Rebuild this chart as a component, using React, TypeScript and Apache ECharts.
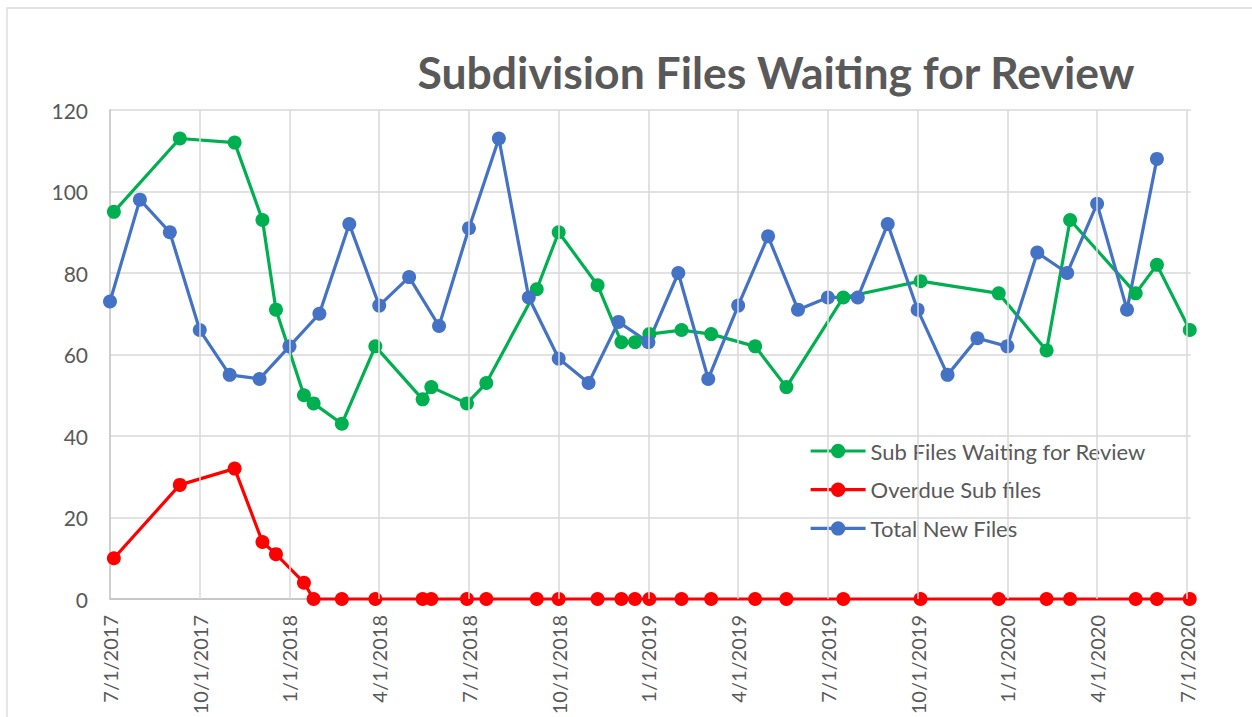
import React, { useEffect, useRef } from 'react';
import * as echarts from 'echarts';

const TITLE = 'Subdivision Files Waiting for Review';
const SERIES_NAMES = ['Sub Files Waiting for Review', 'Overdue Sub files', 'Total New Files'];
const COLORS = ['#00B050', '#FF0000', '#4472C4'];

const SUB_DATES = [
  '2017-07-05', '2017-09-11', '2017-11-06', '2017-12-04', '2017-12-18', '2018-01-16',
  '2018-01-26', '2018-02-22', '2018-03-28', '2018-05-15', '2018-05-24', '2018-06-29',
  '2018-07-19', '2018-09-09', '2018-10-01', '2018-11-10', '2018-12-04', '2018-12-18',
  '2019-01-02', '2019-02-04', '2019-03-04', '2019-04-18', '2019-05-20', '2019-07-17',
  '2019-10-04', '2019-12-23', '2020-02-10', '2020-03-04', '2020-05-10', '2020-06-01',
  '2020-07-04',
];
const SUB_WAITING = [
  95, 113, 112, 93, 71, 50, 48, 43, 62, 49, 52, 48, 53, 76, 90, 77, 63, 63, 65, 66,
  65, 62, 52, 74, 78, 75, 61, 93, 75, 82, 66,
];
const OVERDUE = [
  10, 28, 32, 14, 11, 4, 0, 0, 0, 0, 0, 0, 0, 0, 0, 0, 0, 0, 0, 0,
  0, 0, 0, 0, 0, 0, 0, 0, 0, 0, 0,
];

const NEW_DATES = [
  '2017-07-01', '2017-08-01', '2017-09-01', '2017-10-01', '2017-11-01', '2017-12-01',
  '2018-01-01', '2018-02-01', '2018-03-01', '2018-04-01', '2018-05-01', '2018-06-01',
  '2018-07-01', '2018-08-01', '2018-09-01', '2018-10-01', '2018-11-01', '2018-12-01',
  '2019-01-01', '2019-02-01', '2019-03-01', '2019-04-01', '2019-05-01', '2019-06-01',
  '2019-07-01', '2019-08-01', '2019-09-01', '2019-10-01', '2019-11-01', '2019-12-01',
  '2020-01-01', '2020-02-01', '2020-03-01', '2020-04-01', '2020-05-01', '2020-06-01',
];
const TOTAL_NEW = [
  73, 98, 90, 66, 55, 54, 62, 70, 92, 72, 79, 67, 91, 113, 74, 59, 53, 68, 63, 80,
  54, 72, 89, 71, 74, 74, 92, 71, 55, 64, 62, 85, 80, 97, 71, 108,
];

const AXIS_START = '2017-07-01';
const AXIS_END = '2020-07-05';
const TICK_MONTHS = 3;
const Y_MIN = 0;
const Y_MAX = 120;
const Y_STEP = 20;

const FONT = 'Lato, "Open Sans", sans-serif';
const TEXT_COLOR = '#595959';
const GRID_COLOR = '#d9d9d9';
const AXIS_COLOR = '#bfbfbf';

function parts(s: string) {
  return s.split('-').map(Number);
}

// fractional month position measured from the axis start
function monthIndex(s: string) {
  const [y, m, d] = parts(s);
  const [y0, m0] = parts(AXIS_START);
  const dim = new Date(y, m, 0).getDate();
  return (y - y0) * 12 + (m - m0) + (d - 1) / dim;
}

function tickLabel(v: number) {
  const [y0, m0] = parts(AXIS_START);
  const total = m0 - 1 + v;
  const y = y0 + Math.floor(total / 12);
  const m = (total % 12) + 1;
  return `${m}/1/${y}`;
}

export default function App() {
  const ref = useRef<HTMLDivElement>(null);

  useEffect(() => {
    document.body.style.margin = '0';
    const chart = echarts.init(ref.current!, null, { renderer: 'svg' });
    const xMax = monthIndex(AXIS_END);
    const gridTicks: number[] = [];
    for (let v = 0; v <= xMax; v += TICK_MONTHS) gridTicks.push(v);

    const mkSeries = (i: number, dates: string[], vals: number[]) => ({
      type: 'line',
      name: SERIES_NAMES[i],
      data: dates.map((d, k) => [monthIndex(d), vals[k]]),
      symbol: 'circle',
      symbolSize: 14,
      showSymbol: true,
      clip: false,
      z: 3,
      itemStyle: { color: COLORS[i] },
      lineStyle: { color: COLORS[i], width: 3.2 },
      emphasis: { disabled: true },
    });

    chart.setOption({
      animation: false,
      textStyle: { fontFamily: FONT },
      graphic: [
        {
          type: 'rect',
          shape: { x: 7, y: 8, width: 1400, height: 900 },
          style: { fill: 'none', stroke: GRID_COLOR, lineWidth: 1.3 },
          silent: true,
          z: -10,
        },
      ],
      title: {
        text: TITLE,
        left: 776,
        textAlign: 'center',
        top: 49,
        padding: 0,
        textStyle: { fontFamily: FONT, fontWeight: 'bold', fontSize: 44.5, color: TEXT_COLOR },
      },
      legend: {
        data: SERIES_NAMES,
        orient: 'vertical',
        left: 809,
        top: 440,
        padding: 0,
        itemWidth: 55,
        itemHeight: 18,
        itemGap: 16.7,
        lineStyle: { width: 3.2 },
        textStyle: { fontFamily: FONT, fontSize: 22, color: TEXT_COLOR, lineHeight: 22 },
        selectedMode: false,
      },
      grid: {
        left: 110,
        top: 110,
        width: 1080.7,
        height: 489,
        containLabel: false,
        outerBoundsMode: 'none',
      },
      xAxis: {
        type: 'value',
        min: 0,
        max: xMax,
        interval: TICK_MONTHS,
        axisLine: { show: true, lineStyle: { color: AXIS_COLOR, width: 1.5 } },
        axisTick: { show: false },
        splitLine: { show: false },
        axisLabel: {
          rotate: 90,
          margin: 16,
          fontFamily: FONT,
          fontSize: 20,
          color: TEXT_COLOR,
          showMaxLabel: false,
          formatter: (v: number) => (Math.abs(v / TICK_MONTHS - Math.round(v / TICK_MONTHS)) < 1e-6 ? tickLabel(Math.round(v)) : ''),
        },
      },
      yAxis: {
        type: 'value',
        min: Y_MIN,
        max: Y_MAX,
        interval: Y_STEP,
        axisLine: { show: true, lineStyle: { color: AXIS_COLOR, width: 1.5 } },
        axisTick: { show: false },
        splitLine: { show: true, lineStyle: { color: GRID_COLOR, width: 1.5 } },
        axisLabel: { margin: 22, fontFamily: FONT, fontSize: 21, color: TEXT_COLOR },
      },
      series: [
        {
          type: 'line',
          name: 'gridlines',
          data: [],
          silent: true,
          z: 1,
          markLine: {
            silent: true,
            symbol: ['none', 'none'],
            label: { show: false },
            lineStyle: { color: GRID_COLOR, width: 1.5, type: 'solid' },
            emphasis: { disabled: true },
            data: gridTicks.slice(1).map((v) => ({ xAxis: v })),
          },
        },
        mkSeries(0, SUB_DATES, SUB_WAITING),
        mkSeries(1, SUB_DATES, OVERDUE),
        mkSeries(2, NEW_DATES, TOTAL_NEW),
      ],
    });
    return () => chart.dispose();
  }, []);

  return <div ref={ref} style={{ width: 1252, height: 717 }} />;
}
